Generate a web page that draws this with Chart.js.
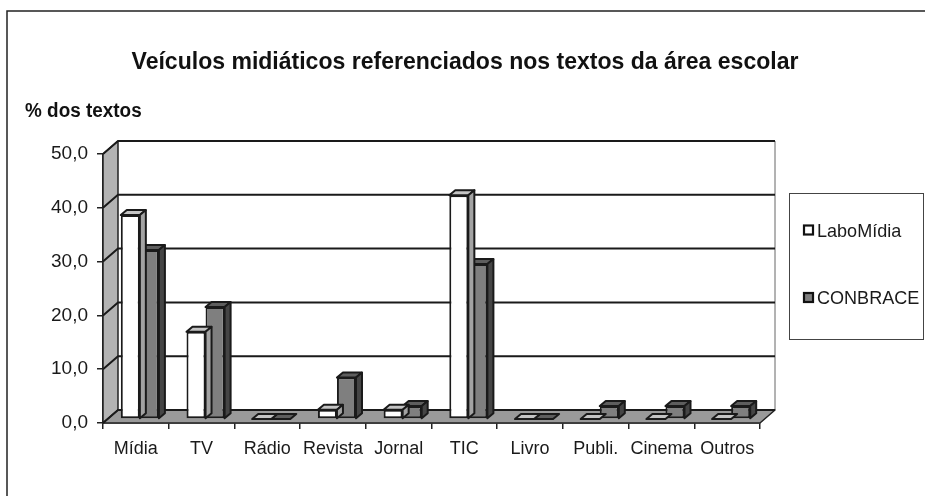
<!DOCTYPE html>
<html>
<head>
<meta charset="utf-8">
<title>Veículos midiáticos</title>
<script src="https://cdn.jsdelivr.net/npm/chart.js@4.4.1/dist/chart.umd.min.js"></script>
<style>
  html, body { margin: 0; padding: 0; background: #fff; }
  canvas { display: block; }
</style>
</head>
<body>
<canvas id="chart" width="925" height="496"></canvas>
<script>
// dados
const titulo = 'Veículos midiáticos referenciados nos textos da área escolar';
const tituloEixoY = '% dos textos';
const categorias = ['Mídia', 'TV', 'Rádio', 'Revista', 'Jornal', 'TIC', 'Livro', 'Publi.', 'Cinema', 'Outros'];
const laboMidia = [37.9, 16.2, 0, 1.7, 1.7, 41.6, 0, 0, 0, 0];
const conbrace = [31.4, 20.8, 0, 7.7, 2.4, 28.8, 0, 2.4, 2.4, 2.4];
const yTicks = [0, 10, 20, 30, 40, 50];

// profundidade 3D
const WDX = 15, WDY = -13;   // paredes
const BX = 4, BY = -4;       // barras ficam um pouco atrás do plano frontal
const BDX = 6, BDY = -5;     // profundidade de cada barra

const FONT = "'Liberation Sans', Arial, sans-serif";

function poly(ctx, pts, fill, stroke, lw) {
    ctx.beginPath();
    ctx.moveTo(pts[0][0], pts[0][1]);
    for (let i = 1; i < pts.length; i++) ctx.lineTo(pts[i][0], pts[i][1]);
    ctx.closePath();
    if (fill) { ctx.fillStyle = fill; ctx.fill(); }
    if (stroke) { ctx.strokeStyle = stroke; ctx.lineWidth = lw || 1; ctx.lineJoin = 'round'; ctx.stroke(); }
}

// texto um pouco "estreito" como no original
function textoEstreito(ctx, txt, x, y, font, sx, align) {
    ctx.save();
    ctx.font = font;
    ctx.textAlign = align || 'left';
    ctx.textBaseline = 'alphabetic';
    ctx.translate(x, y);
    ctx.scale(sx, 1);
    ctx.fillText(txt, 0, 0);
    ctx.restore();
}

const efeito3d = {
    id: 'efeito3d',
    beforeDraw(chart) {
        const ctx = chart.ctx;
        ctx.save();
        ctx.fillStyle = '#fff';
        ctx.fillRect(0, 0, chart.width, chart.height);
        // moldura externa
        ctx.strokeStyle = '#222';
        ctx.lineWidth = 1.5;
        ctx.strokeRect(7, 11, chart.width + 20, chart.height + 20);
        // títulos
        ctx.fillStyle = '#111';
        textoEstreito(ctx, titulo, 465, 69, 'bold 24.5px ' + FONT, 0.94, 'center');
        textoEstreito(ctx, tituloEixoY, 25, 116.5, 'bold 19.5px ' + FONT, 0.97, 'left');
        ctx.restore();
    },
    beforeDatasetsDraw(chart) {
        const ctx = chart.ctx;
        const { left: L, right: R, top: T, bottom: B } = chart.chartArea;
        const y = chart.scales.y;
        ctx.save();
        // parede esquerda
        poly(ctx, [[L, T], [L + WDX, T + WDY], [L + WDX, B + WDY], [L, B]], '#b3b3b3', '#222', 1.5);
        // piso
        poly(ctx, [[L, B], [R, B], [R + WDX, B + WDY], [L + WDX, B + WDY]], '#9a9a9a', '#222', 1.5);
        // borda direita da parede do fundo
        ctx.strokeStyle = '#666';
        ctx.lineWidth = 1;
        ctx.beginPath();
        ctx.moveTo(R + WDX, T + WDY);
        ctx.lineTo(R + WDX, B + WDY);
        ctx.stroke();
        // linhas de grade
        ctx.strokeStyle = '#1a1a1a';
        ctx.lineWidth = 2;
        yTicks.forEach(v => {
            const py = y.getPixelForValue(v);
            ctx.beginPath();
            ctx.moveTo(L, py);
            ctx.lineTo(L + WDX, py + WDY);
            ctx.lineTo(R + WDX, py + WDY);
            ctx.stroke();
        });
        ctx.restore();
    },
    beforeDatasetDraw(chart) {
        chart.ctx.save();
        chart.ctx.translate(BX, BY);
    },
    afterDatasetDraw(chart, args) {
        const ctx = chart.ctx;
        const ds = chart.data.datasets[args.index];
        args.meta.data.forEach(bar => {
            const p = bar.getProps(['x', 'y', 'base', 'width'], true);
            const x0 = p.x - p.width / 2, x1 = p.x + p.width / 2;
            poly(ctx, [[x0, p.y], [x1, p.y], [x1 + BDX, p.y + BDY], [x0 + BDX, p.y + BDY]], ds.topColor, '#1a1a1a', 2);
            if (p.base - p.y > 0.5) {
                poly(ctx, [[x1, p.y], [x1 + BDX, p.y + BDY], [x1 + BDX, p.base + BDY], [x1, p.base]], ds.sideColor, '#1a1a1a', 2);
            }
        });
        ctx.restore();
    },
    afterDraw(chart) {
        // legenda
        const ctx = chart.ctx;
        ctx.save();
        ctx.strokeStyle = '#444';
        ctx.lineWidth = 1;
        ctx.strokeRect(789.5, 193.5, 134, 146);
        const bases = [236.5, 304];
        chart.data.datasets.forEach((ds, i) => {
            ctx.fillStyle = ds.backgroundColor;
            ctx.fillRect(804, bases[i] - 11, 9, 9);
            ctx.strokeStyle = '#111';
            ctx.lineWidth = 2.2;
            ctx.strokeRect(804, bases[i] - 11, 9, 9);
            ctx.fillStyle = '#1a1a1a';
            textoEstreito(ctx, ds.label, 817, bases[i], '19px ' + FONT, 0.95, 'left');
        });
        ctx.restore();
    }
};

try {
    const ctx = document.getElementById('chart').getContext('2d');
    window.graficoVeiculos = new Chart(ctx, {
        type: 'bar',
        data: {
            labels: categorias,
            datasets: [{
                label: 'LaboMídia',
                data: laboMidia,
                backgroundColor: '#ffffff',
                topColor: '#c4c4c4',
                sideColor: '#a3a3a3',
                borderColor: '#1a1a1a',
                borderWidth: 2,
                borderSkipped: false,
                clip: false
            }, {
                label: 'CONBRACE',
                data: conbrace,
                backgroundColor: '#7f7f7f',
                topColor: '#5e5e5e',
                sideColor: '#454545',
                borderColor: '#1a1a1a',
                borderWidth: 2,
                borderSkipped: false,
                clip: false
            }]
        },
        options: {
            responsive: false,
            animation: false,
            devicePixelRatio: 1,
            layout: { padding: { left: 19, right: 165, top: 154, bottom: 0 } },
            datasets: {
                bar: { categoryPercentage: 0.58, barPercentage: 1.0 }
            },
            plugins: {
                legend: { display: false },
                tooltip: { enabled: false },
                title: { display: false }
            },
            scales: {
                x: {
                    grid: { drawOnChartArea: false, offset: true, tickLength: 6, color: '#222', lineWidth: 1.5 },
                    border: { display: true, color: '#222', width: 1.5 },
                    ticks: {
                        color: '#1a1a1a',
                        font: { family: FONT, size: 18 },
                        padding: 9,
                        minRotation: 0,
                        maxRotation: 0,
                        autoSkip: false
                    },
                    afterFit(scale) { scale.height = 73; }
                },
                y: {
                    min: 0,
                    max: 50,
                    afterBuildTicks(scale) { scale.ticks = yTicks.map(v => ({ value: v })); },
                    grid: { drawOnChartArea: false, tickLength: 6, color: '#222', lineWidth: 1.5 },
                    border: { display: true, color: '#222', width: 1.5 },
                    ticks: {
                        color: '#1a1a1a',
                        font: { family: FONT, size: 19 },
                        padding: 9,
                        callback: v => v.toFixed(1).replace('.', ',')
                    },
                    afterFit(scale) { scale.width = 84; }
                }
            }
        },
        plugins: [efeito3d]
    });
} catch (err) {
    console.error('[Gráfico] erro:', err);
}
</script>
</body>
</html>
